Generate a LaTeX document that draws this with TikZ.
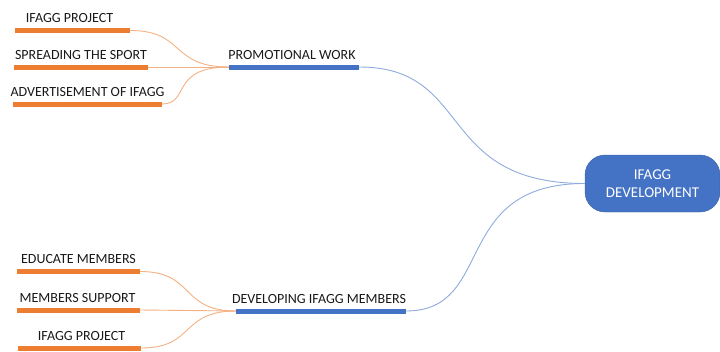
\documentclass[tikz,border=0pt]{standalone}
\usepackage{fontspec}
\setmainfont{Carlito}
\usepackage{tikz}
\usetikzlibrary{
  positioning,
  arrows.meta
}
\usepackage{xcolor}
\definecolor{barorange}{HTML}{ED7D31}
\definecolor{barblue}{HTML}{4472C4}
\definecolor{lineorange}{HTML}{F4B183}
\definecolor{lineblue}{HTML}{8FAADC}

\begin{document}
\begin{tikzpicture}[x=1pt,y=-1pt,
    obar/.style={fill=barorange,inner sep=0pt,minimum height=5pt},
    bbar/.style={fill=barblue,inner sep=0pt,minimum height=5pt},
    every label/.style={inner sep=0pt,text=black!90,font=\fontsize{14}{16}\selectfont},
    oline/.style={lineorange,line width=0.9pt},
    bline/.style={lineblue,line width=0.9pt},
    rootbox/.style={fill=barblue,draw=barblue!85!black,rounded corners=20pt,
        text=white,align=center,inner sep=0pt,font=\fontsize{15}{18}\selectfont}]

    \useasboundingbox (0,0) rectangle (720,351);

    % centre
    \node[rootbox,minimum width=135pt,minimum height=57pt] (root) at (652.5,183.5) {IFAGG\\DEVELOPMENT};

    % promotional branch
    \node[bbar,minimum width=130pt,label={[label distance=5pt,xshift=-2pt]above:PROMOTIONAL WORK}] (promo) at (294,67) {};
    \node[obar,minimum width=115pt,label={[label distance=5pt,xshift=-3pt]above:IFAGG PROJECT}] (proj1) at (72.5,30.5) {};
    \node[obar,minimum width=134pt,label={[label distance=5pt]above:SPREADING THE SPORT}] (sport) at (81,67) {};
    \node[obar,minimum width=149pt,label={[label distance=5pt]above:ADVERTISEMENT OF IFAGG}] (advert) at (87.5,104) {};

    % members branch
    \node[bbar,minimum width=170pt,label={[label distance=5pt,xshift=-2pt]above:DEVELOPING IFAGG MEMBERS}] (develop) at (321,311) {};
    \node[obar,minimum width=123pt,label={[label distance=5pt]above:EDUCATE MEMBERS}] (educate) at (78.5,271.5) {};
    \node[obar,minimum width=123pt,label={[label distance=5pt,xshift=-1pt]above:MEMBERS SUPPORT}] (support) at (78.5,310) {};
    \node[obar,minimum width=123pt,label={[label distance=5pt,xshift=2pt]above:IFAGG PROJECT}] (proj2) at (79.5,348) {};

    % connectors
    \draw[bline] (promo.east) .. controls +(115,0) and +(-150,0) .. (root.west);
    \draw[bline] (develop.east) .. controls +(90,0) and +(-135,0) .. (root.west);

    \draw[oline] (proj1.east) .. controls +(55,0) and +(-59,0) .. (promo.west);
    \draw[oline] (sport.east) -- (promo.west);
    \draw[oline] (advert.east) .. controls +(28,0) and +(-59,0) .. (promo.west);

    \draw[oline] (educate.east) .. controls +(55,0) and +(-56,0) .. (develop.west);
    \draw[oline] (support.east) -- (develop.west);
    \draw[oline] (proj2.east) .. controls +(54,0) and +(-56,0) .. (develop.west);
\end{tikzpicture}
\end{document}
